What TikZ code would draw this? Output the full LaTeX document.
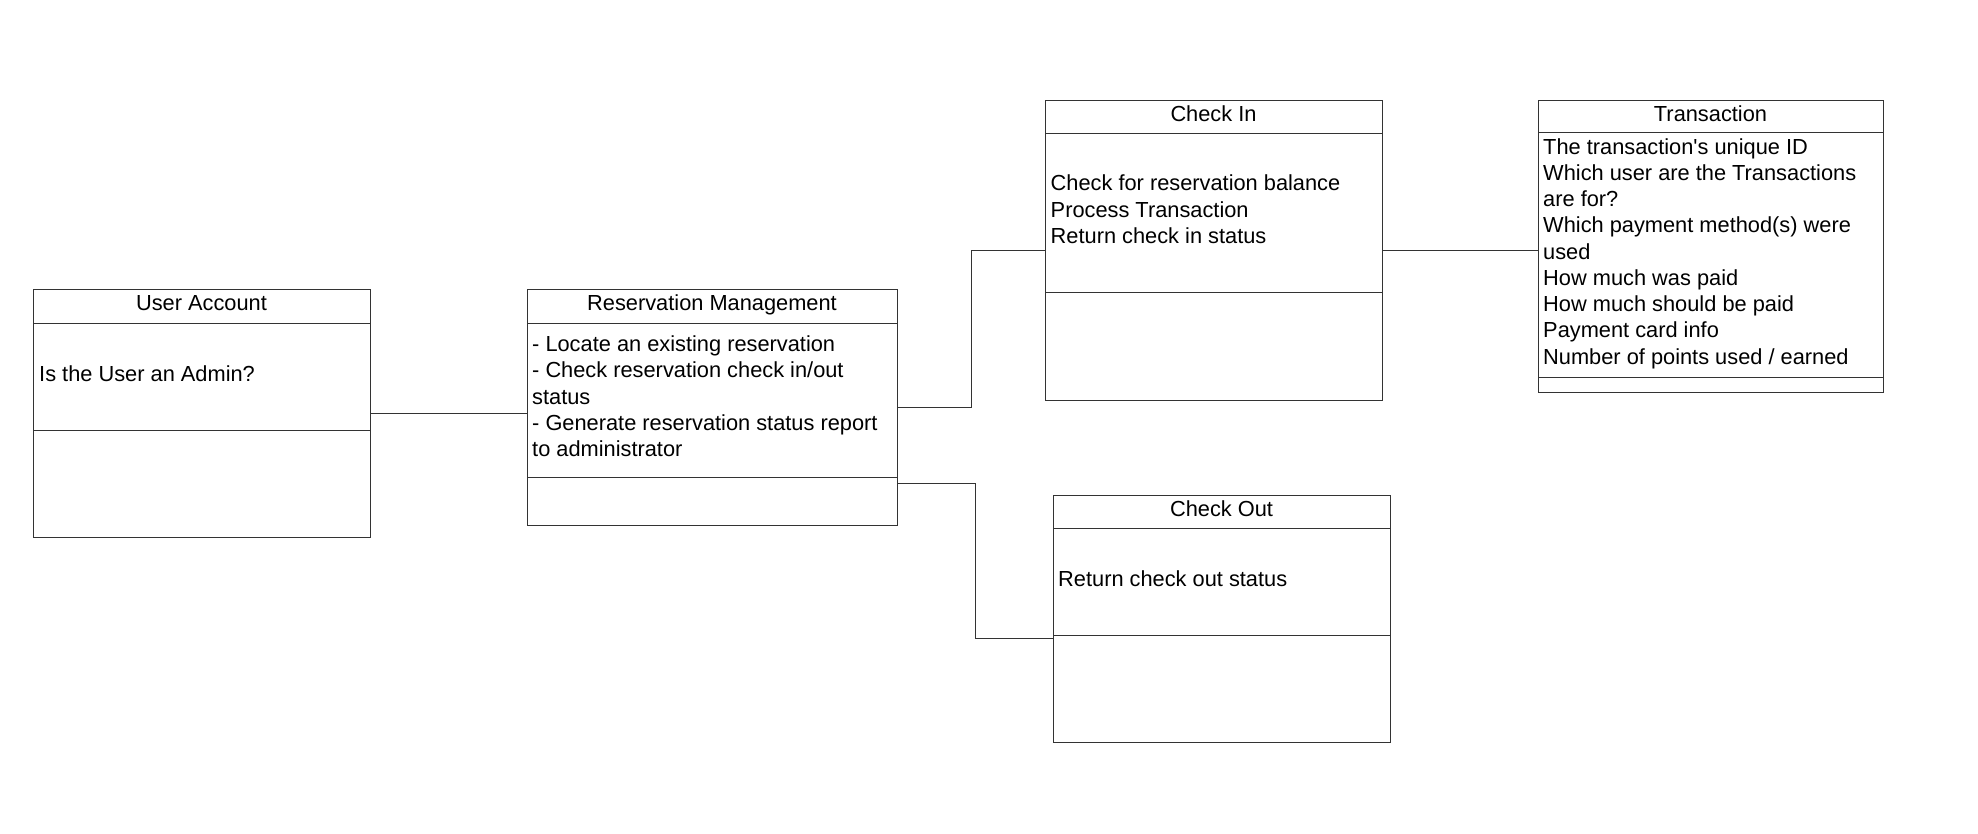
\documentclass[tikz,border=0pt]{standalone}
\usepackage{fontspec}
\setmainfont{Liberation Sans}
\begin{document}
\begin{tikzpicture}[x=1pt,y=-1pt,
  box/.style={draw=black!80, line width=1pt, inner sep=0pt, outer sep=0pt, anchor=north west},
  sep/.style={draw=black!80, line width=1pt},
  ttl/.style={anchor=base, inner sep=0pt, font=\fontsize{21.8}{26.25}\selectfont},
  body/.style={anchor=north west, inner sep=0pt, align=left, font=\fontsize{21.8}{26.25}\selectfont},
  conn/.style={draw=black!80, line width=1pt}]
\useasboundingbox (0,0) rectangle (1978,834);

% User Account
\node[box, minimum width=337pt, minimum height=247pt] (ua) at (33,290) {};
\draw[sep] (ua.west |- 0,323) -- (ua.east |- 0,323);
\draw[sep] (ua.west |- 0,430) -- (ua.east |- 0,430);
\node[ttl] (uat) at (201.5,311) {User Account};
\node[body] (uab) at (39,362.6) {\strut Is the User an Admin?};

% Reservation Management
\node[box, minimum width=370pt, minimum height=235pt] (rm) at (527,290) {};
\draw[sep] (rm.west |- 0,323) -- (rm.east |- 0,323);
\draw[sep] (rm.west |- 0,477) -- (rm.east |- 0,477);
\node[ttl] (rmt) at (712,311) {Reservation Management};
\node[body] (rmb) at (532,333.1) {\strut - Locate an existing reservation\\
\strut - Check reservation check in/out\\
\strut status\\
\strut - Generate reservation status report\\
\strut to administrator};

% Check In
\node[box, minimum width=337pt, minimum height=299pt] (ci) at (1045,101) {};
\draw[sep] (ci.west |- 0,134) -- (ci.east |- 0,134);
\draw[sep] (ci.west |- 0,293) -- (ci.east |- 0,293);
\node[ttl] (cit) at (1213.5,121.7) {Check In};
\node[body] (cib) at (1050.5,172.4) {\strut Check for reservation balance\\
\strut Process Transaction\\
\strut Return check in status};

% Transaction
\node[box, minimum width=345pt, minimum height=291pt] (tr) at (1538,101) {};
\draw[sep] (tr.west |- 0,133) -- (tr.east |- 0,133);
\draw[sep] (tr.west |- 0,377) -- (tr.east |- 0,377);
\node[ttl] (trt) at (1710.5,121.7) {Transaction};
\node[body] (trb) at (1543,135.6) {\strut The transaction\textquotesingle s unique ID\\
\strut Which user are the Transactions\\
\strut are for?\\
\strut Which payment method(s) were\\
\strut used\\
\strut How much was paid\\
\strut How much should be paid\\
\strut Payment card info\\
\strut Number of points used / earned};

% Check Out
\node[box, minimum width=337pt, minimum height=247pt] (co) at (1053,495) {};
\draw[sep] (co.west |- 0,528) -- (co.east |- 0,528);
\draw[sep] (co.west |- 0,635) -- (co.east |- 0,635);
\node[ttl] (cot) at (1221.5,516.7) {Check Out};
\node[body] (cob) at (1058,568.3) {\strut Return check out status};

% Connectors
\draw[conn] (ua.east) -- (ua.east -| rm.west);
\coordinate (k1) at (971,407.5);
\draw[conn] (rm.east) -- (k1) |- (ci.west);
\coordinate (k2) at (975,483);
\draw[conn] (rm.east |- k2) -- (k2) |- (co.west |- 0,638);
\draw[conn] (ci.east) -- (ci.east -| tr.west);
\end{tikzpicture}
\end{document}
